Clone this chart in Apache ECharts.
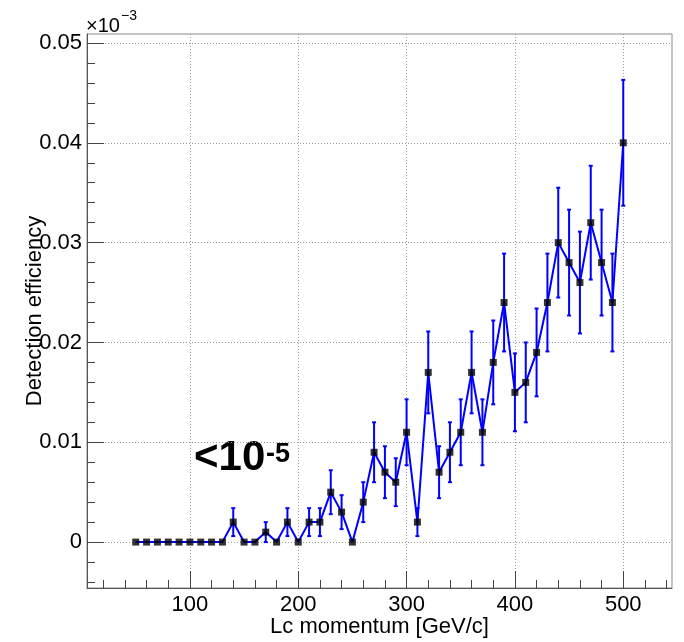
<!DOCTYPE html>
<html>
<head>
<meta charset="utf-8">
<title>Detection efficiency vs Lc momentum</title>
<script src="https://cdn.jsdelivr.net/npm/echarts@6/dist/echarts.min.js"></script>
<style>
  html, body { margin: 0; padding: 0; background: #ffffff; }
  #chart { width: 684px; height: 642px; }
</style>
</head>
<body>
<div id="chart"></div>
<script>
// Lc momentum bin centres [GeV/c]
const momentum = [50, 60, 70, 80, 90, 100, 110, 120, 130, 140,
                  150, 160, 170, 180, 190, 200, 210, 220, 230, 240,
                  250, 260, 270, 280, 290, 300, 310, 320, 330, 340,
                  350, 360, 370, 380, 390, 400, 410, 420, 430, 440,
                  450, 460, 470, 480, 490, 500];

// Detection efficiency (in units of 1e-3)
const efficiency = [0, 0, 0, 0, 0, 0, 0, 0, 0, 0.002,
                    0, 0, 0.001, 0, 0.002, 0, 0.002, 0.002, 0.005, 0.003,
                    0, 0.004, 0.009, 0.007, 0.006, 0.011, 0.002, 0.017, 0.007, 0.009,
                    0.011, 0.017, 0.011, 0.018, 0.024, 0.015, 0.016, 0.019, 0.024, 0.030,
                    0.028, 0.026, 0.032, 0.028, 0.024, 0.040];

// Vertical error on each point
const efficiencyErr = [0, 0, 0, 0, 0, 0, 0, 0, 0, 0.0014,
                       0, 0, 0.0010, 0, 0.0014, 0, 0.0014, 0.0014, 0.0022, 0.0017,
                       0, 0.0020, 0.0030, 0.0026, 0.0024, 0.0033, 0.0014, 0.0041, 0.0026, 0.0030,
                       0.0033, 0.0041, 0.0033, 0.0042, 0.0049, 0.0039, 0.0040, 0.0044, 0.0049, 0.0055,
                       0.0053, 0.0051, 0.0057, 0.0053, 0.0049, 0.0063];

// Axis ranges and tick positions
const xRange = [5, 545];
const yRange = [-0.0046, 0.0509];
const xMajorTicks = [100, 200, 300, 400, 500];
const xMinorTicks = [20, 40, 60, 80, 100, 120, 140, 160, 180, 200, 220, 240, 260,
                     280, 300, 320, 340, 360, 380, 400, 420, 440, 460, 480, 500, 520, 540];
const yMajorTicks = [0, 0.01, 0.02, 0.03, 0.04, 0.05];
const yMinorTicks = [-0.004, -0.002, 0, 0.002, 0.004, 0.006, 0.008, 0.01, 0.012, 0.014,
                     0.016, 0.018, 0.02, 0.022, 0.024, 0.026, 0.028, 0.03, 0.032, 0.034,
                     0.036, 0.038, 0.04, 0.042, 0.044, 0.046, 0.048, 0.05];

const xTitle = 'Lc momentum [GeV/c]';
const yTitle = 'Detection efficiency';

const FONT = '"Liberation Sans", Arial, Helvetica, sans-serif';
const BLUE = '#0000ff';

const gridBox = { left: 87, right: 12, top: 34, bottom: 54 };
const plotW = 684 - gridBox.left - gridBox.right;
const plotH = 642 - gridBox.top - gridBox.bottom;

const points = momentum.map((x, i) => [x, efficiency[i]]);
const errPoints = momentum.map((x, i) => [x, efficiency[i], efficiencyErr[i]]);

const labelStyle = { fontFamily: FONT, fontSize: 22, color: '#000' };

const chart = echarts.init(document.getElementById('chart'), null, { renderer: 'canvas' });

chart.setOption({
  animation: false,
  backgroundColor: '#ffffff',
  grid: {
    left: gridBox.left, right: gridBox.right, top: gridBox.top, bottom: gridBox.bottom,
    show: true, borderColor: '#8a8a8a', borderWidth: 1,
    outerBoundsMode: 'none'
  },
  xAxis: [
    {
      type: 'value', min: xRange[0], max: xRange[1], position: 'bottom',
      axisLine: { onZero: false, lineStyle: { color: '#555', width: 1 } },
      axisTick: { inside: true, length: 17, customValues: xMajorTicks, lineStyle: { color: '#444' } },
      axisLabel: Object.assign({ customValues: xMajorTicks, margin: 6 }, labelStyle),
      splitLine: { show: true, lineStyle: { type: [1, 2], color: '#9a9a9a', width: 1 } },
      name: xTitle, nameLocation: 'middle', nameGap: 28, nameMoveOverlap: false,
      nameTextStyle: labelStyle
    },
    {
      // minor ticks, placed on the bottom edge
      type: 'value', min: xRange[0], max: xRange[1], position: 'top', offset: -plotH,
      axisLine: { show: false, onZero: false },
      axisTick: { inside: false, length: 8, customValues: xMinorTicks, lineStyle: { color: '#444' } },
      axisLabel: { show: false },
      splitLine: { show: false }
    }
  ],
  yAxis: [
    {
      type: 'value', min: yRange[0], max: yRange[1], position: 'left',
      axisLine: { onZero: false, lineStyle: { color: '#555', width: 1 } },
      axisTick: { inside: true, length: 17, customValues: yMajorTicks, lineStyle: { color: '#444' } },
      axisLabel: Object.assign({
        customValues: yMajorTicks, margin: 5,
        formatter: v => (v === 0 ? '0' : v.toFixed(2))
      }, labelStyle),
      splitLine: { show: true, lineStyle: { type: [1, 2], color: '#9a9a9a', width: 1 } },
      name: yTitle, nameLocation: 'middle', nameGap: 41, nameMoveOverlap: false,
      nameTextStyle: labelStyle
    },
    {
      // minor ticks, placed on the left edge
      type: 'value', min: yRange[0], max: yRange[1], position: 'right', offset: -plotW,
      axisLine: { show: false, onZero: false },
      axisTick: { inside: false, length: 8, customValues: yMinorTicks, lineStyle: { color: '#444' } },
      axisLabel: { show: false },
      splitLine: { show: false }
    }
  ],
  graphic: [
    {
      type: 'text', x: 86, y: 26, silent: true,
      style: { text: '×10', font: '20px ' + FONT, fill: '#000',
               textAlign: 'left', textVerticalAlign: 'middle' }
    },
    {
      type: 'text', x: 121, y: 16, silent: true,
      style: { text: '−3', font: '14px ' + FONT, fill: '#000',
               textAlign: 'left', textVerticalAlign: 'middle' }
    },
    {
      type: 'text', x: 194, y: 458, silent: true,
      style: { text: '<10', font: 'bold 42px ' + FONT, fill: '#000',
               textAlign: 'left', textVerticalAlign: 'middle' }
    },
    {
      type: 'text', x: 266, y: 455, silent: true,
      style: { text: '-5', font: 'bold 27px ' + FONT, fill: '#000',
               textAlign: 'left', textVerticalAlign: 'middle' }
    }
  ],
  series: [
    {
      type: 'line', data: points, xAxisIndex: 0, yAxisIndex: 0,
      showSymbol: false, symbol: 'none',
      lineStyle: { color: BLUE, width: 2 },
      silent: true, z: 2
    },
    {
      type: 'custom', data: errPoints, xAxisIndex: 0, yAxisIndex: 0,
      encode: { x: 0, y: 1 },
      silent: true, z: 3,
      renderItem: function (params, api) {
        const x = api.value(0), y = api.value(1), e = api.value(2);
        if (!e) return null;
        const top = api.coord([x, y + e]);
        const bot = api.coord([x, y - e]);
        const cap = 2;
        const st = { stroke: BLUE, lineWidth: 2 };
        return {
          type: 'group',
          children: [
            { type: 'line', shape: { x1: top[0], y1: top[1], x2: bot[0], y2: bot[1] }, style: st },
            { type: 'line', shape: { x1: top[0] - cap, y1: top[1], x2: top[0] + cap, y2: top[1] }, style: st },
            { type: 'line', shape: { x1: bot[0] - cap, y1: bot[1], x2: bot[0] + cap, y2: bot[1] }, style: st }
          ]
        };
      }
    },
    {
      type: 'scatter', data: points, xAxisIndex: 0, yAxisIndex: 0,
      symbol: 'rect', symbolSize: 7,
      itemStyle: { color: '#000000' },
      silent: true, z: 4
    }
  ]
});
</script>
</body>
</html>
